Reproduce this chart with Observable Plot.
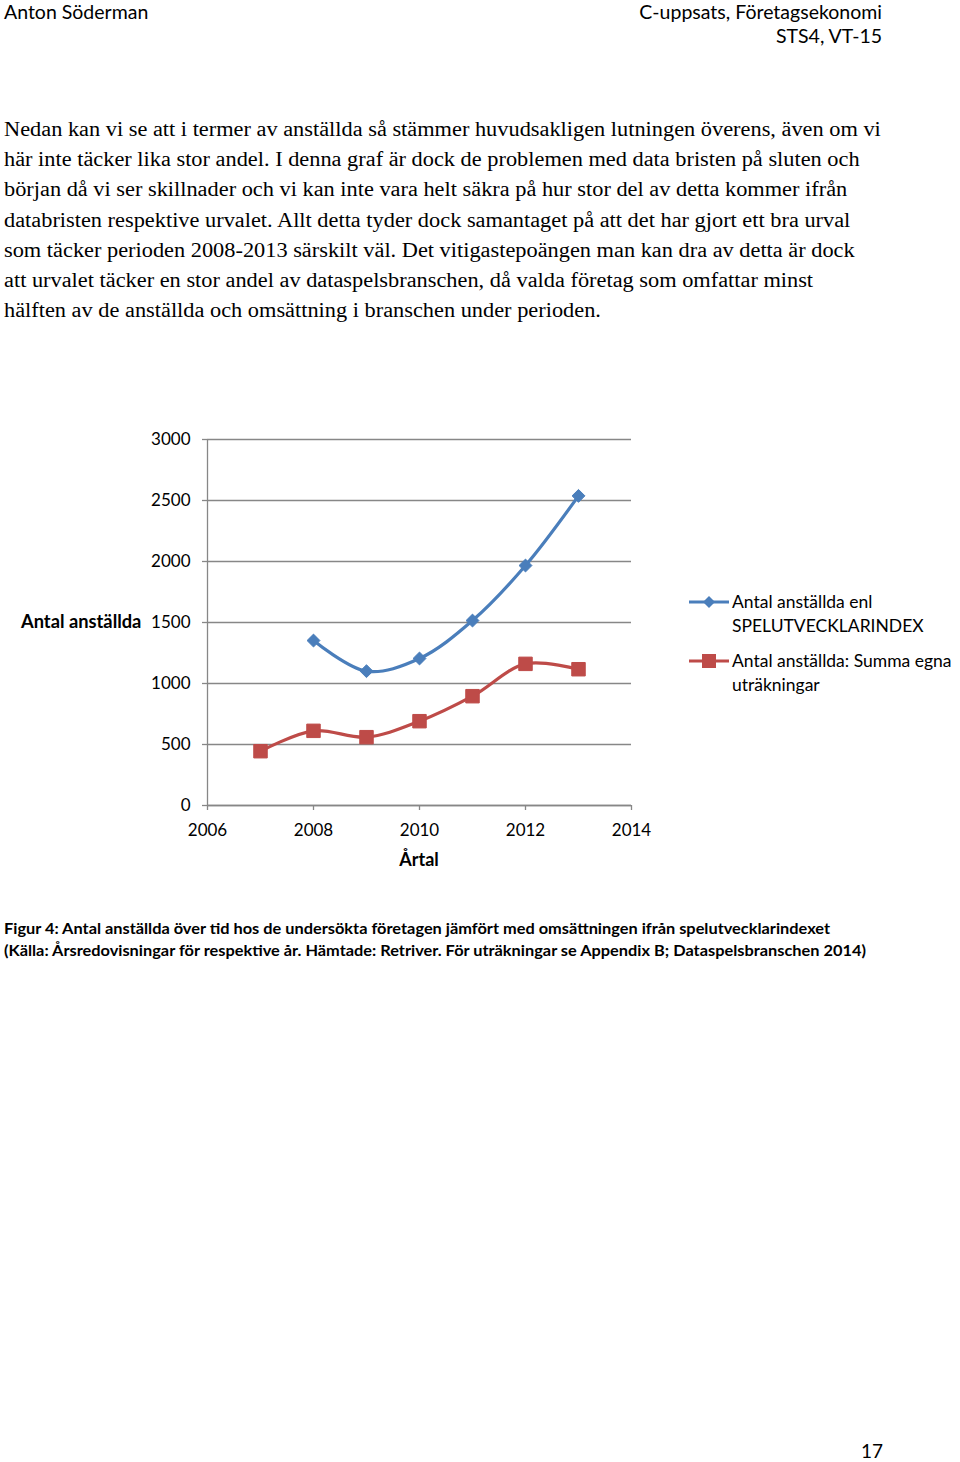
<!DOCTYPE html>
<html>
<head>
<meta charset="utf-8">
<script src="https://cdn.jsdelivr.net/npm/d3@7"></script>
<script src="https://cdn.jsdelivr.net/npm/@observablehq/plot@0.6"></script>
<style>
  html, body { margin: 0; padding: 0; background: #fff; }
  #page { position: relative; width: 960px; height: 1462px; overflow: hidden; color: #000; }
  .hdr { position: absolute; font-family: Lato, "Open Sans", sans-serif; font-size: 19.5px; line-height: 24px; white-space: nowrap; }
  .body { position: absolute; left: 4px; top: 114px; font-family: "Liberation Serif", "DejaVu Serif", serif; font-size: 20.5px; line-height: 30.2px; transform: scaleX(1.09); transform-origin: 0 0; }
  .body div { white-space: nowrap; }
  .lab { position: absolute; font-family: Lato, sans-serif; white-space: nowrap; }
  #chart { position: absolute; left: 0; top: 400px; }
  .cap { position: absolute; left: 4px; top: 917px; font-family: Lato, "Open Sans", sans-serif; font-weight: bold; font-size: 15.5px; line-height: 22px; white-space: nowrap; transform: scaleX(1.055); transform-origin: 0 0; }
  .leg { position: absolute; left: 688px; font-family: Lato, sans-serif; font-size: 17.5px; line-height: 24px; }
  .leg svg { position: absolute; left: 0; top: 3px; }
  .leg span { position: absolute; left: 44px; top: 0; white-space: nowrap; }
</style>
</head>
<body>
<div id="page">
  <div class="hdr" style="left:4px; top:0px;">Anton Söderman</div>
  <div class="hdr" style="right:78px; top:0px; text-align:right;">C-uppsats, Företagsekonomi<br>STS4, VT-15</div>
  <div class="body">
    <div>Nedan kan vi se att i termer av anställda så stämmer huvudsakligen lutningen överens, även om vi</div>
    <div>här inte täcker lika stor andel. I denna graf är dock de problemen med data bristen på sluten och</div>
    <div>början då vi ser skillnader och vi kan inte vara helt säkra på hur stor del av detta kommer ifrån</div>
    <div>databristen respektive urvalet. Allt detta tyder dock samantaget på att det har gjort ett bra urval</div>
    <div>som täcker perioden 2008-2013 särskilt väl. Det vitigastepoängen man kan dra av detta är dock</div>
    <div>att urvalet täcker en stor andel av dataspelsbranschen, då valda företag som omfattar minst</div>
    <div>hälften av de anställda och omsättning i branschen under perioden.</div>
  </div>
  <div id="chart"></div>
  <div class="lab" style="left:21px; top:610px; font-size:18.3px; font-weight:bold;">Antal anställda</div>
  <div class="lab" style="left:419px; top:848px; font-size:18px; font-weight:bold; transform:translateX(-50%);">Årtal</div>
  <div id="legend"></div>
  <div class="cap">Figur 4: Antal anställda över tid hos de undersökta företagen jämfört med omsättningen ifrån spelutvecklarindexet<br>(Källa: Årsredovisningar för respektive år. Hämtade: Retriver. För uträkningar se Appendix B; Dataspelsbranschen 2014)</div>
  <div class="lab" style="left:861px; top:1441px; font-size:19px; line-height:20px;">17</div>
</div>
<script>
const years = [2007, 2008, 2009, 2010, 2011, 2012, 2013];
const spelutvecklarindex = [null, 1352, 1101, 1205, 1516, 1967, 2538];
const egnaUtrakningar = [445, 612, 560, 691, 896, 1161, 1117];
const seriesNames = ["Antal anställda enl SPELUTVECKLARINDEX", "Antal anställda: Summa egna uträkningar"];
const legendLines = [["Antal anställda enl", "SPELUTVECKLARINDEX"], ["Antal anställda: Summa egna", "uträkningar"]];
const xTicks = [2006, 2008, 2010, 2012, 2014];
const yTicks = [0, 500, 1000, 1500, 2000, 2500, 3000];
const colors = ["#4A7EBB", "#BE4B48"];

const rows = [];
years.forEach((yr, i) => {
  if (spelutvecklarindex[i] != null) rows.push({year: yr, value: spelutvecklarindex[i], series: seriesNames[0]});
});
years.forEach((yr, i) => {
  if (egnaUtrakningar[i] != null) rows.push({year: yr, value: egnaUtrakningar[i], series: seriesNames[1]});
});
const blue = rows.filter(d => d.series === seriesNames[0]);
const red = rows.filter(d => d.series === seriesNames[1]);

const grey = "#878787";
const chart = Plot.plot({
  width: 700,
  height: 485,
  marginLeft: 207,
  marginRight: 69,
  marginTop: 39,
  marginBottom: 80,
  style: {fontFamily: "Lato, sans-serif", fontSize: "17px", color: "#000", background: "transparent"},
  x: {domain: [2006, 2014]},
  y: {domain: [0, 3000]},
  marks: [
    Plot.gridY(yTicks, {stroke: grey, strokeOpacity: 1, strokeWidth: 1.3}),
    Plot.axisY(yTicks, {tickSize: 5, tickPadding: 12, stroke: grey, strokeWidth: 1.3, label: null, tickFormat: d => String(d), fill: "#000"}),
    Plot.axisX(xTicks, {tickSize: 5, tickPadding: 13, stroke: grey, strokeWidth: 1.3, label: null, tickFormat: d => String(d), fill: "#000"}),
    Plot.ruleX([2006], {stroke: grey, strokeWidth: 1.3}),
    Plot.ruleY([0], {stroke: grey, strokeWidth: 1.3}),
    Plot.line(blue, {x: "year", y: "value", stroke: colors[0], strokeWidth: 3.2, curve: "catmull-rom"}),
    Plot.line(red, {x: "year", y: "value", stroke: colors[1], strokeWidth: 3.2, curve: "catmull-rom"}),
    Plot.dot(blue, {x: "year", y: "value", symbol: "diamond2", r: 5.8, fill: colors[0], stroke: colors[0], strokeWidth: 1}),
    Plot.dot(red, {x: "year", y: "value", symbol: "square", r: 7.6, fill: colors[1], stroke: colors[1], strokeWidth: 1})
  ]
});
document.getElementById("chart").appendChild(chart);

// Legend
const legend = document.getElementById("legend");
const legTops = [590, 649];
const symbols = ["diamond", "square"];
seriesNames.forEach((name, i) => {
  const div = document.createElement("div");
  div.className = "leg";
  div.style.top = legTops[i] + "px";
  const svgNS = "http://www.w3.org/2000/svg";
  const svg = document.createElementNS(svgNS, "svg");
  svg.setAttribute("width", "42");
  svg.setAttribute("height", "18");
  const line = document.createElementNS(svgNS, "line");
  line.setAttribute("x1", "1"); line.setAttribute("x2", "41");
  line.setAttribute("y1", "9"); line.setAttribute("y2", "9");
  line.setAttribute("stroke", colors[i]); line.setAttribute("stroke-width", "3.2");
  svg.appendChild(line);
  const sym = document.createElementNS(svgNS, "path");
  sym.setAttribute("d", symbols[i] === "diamond" ? "M21,3 L27,9 L21,15 L15,9 Z" : "M14,2 L28,2 L28,16 L14,16 Z");
  sym.setAttribute("fill", colors[i]);
  svg.appendChild(sym);
  div.appendChild(svg);
  const span = document.createElement("span");
  span.innerHTML = legendLines[i].join("<br>");
  div.appendChild(span);
  legend.appendChild(div);
});
</script>
</body>
</html>
